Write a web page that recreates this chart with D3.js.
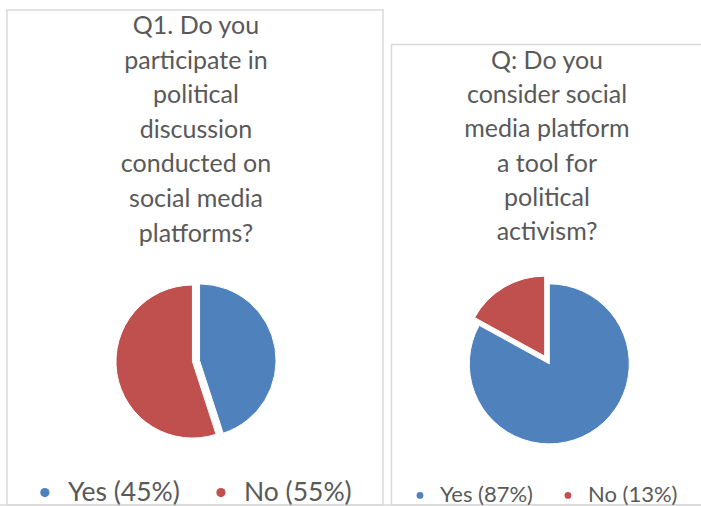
<!DOCTYPE html>
<html>
<head>
<meta charset="utf-8">
<script src="https://cdn.jsdelivr.net/npm/d3@7"></script>
<style>
  body { margin: 0; background: #fff; }
  svg { display: block; font-family: Lato, "Open Sans", sans-serif; }
</style>
</head>
<body>
<svg id="chart" width="701" height="506"></svg>
<script>

// chart data
var categories = ["Yes", "No"];
var colors = ["#4f81bd", "#c0504d"];

var q1Title = ["Q1. Do you", "participate in", "political", "discussion",
               "conducted on", "social media", "platforms?"];
var q1Values = [45, 55];
var q1Labels = ["Yes (45%)", "No (55%)"];

var q2Title = ["Q: Do you", "consider social", "media platform",
               "a tool for", "political", "activism?"];
var q2Values = [83, 17];   // slice sizes as drawn in the picture
var q2Labels = ["Yes (87%)", "No (13%)"];


var svg = d3.select("#chart"),
    width = +svg.attr("width"),
    height = +svg.attr("height");

var textColor = "#595959",
    borderColor = "#d9d9d9";

// panel frames
svg.append("rect")
    .attr("x", 7).attr("y", 10)
    .attr("width", 376).attr("height", 495)
    .attr("fill", "none").attr("stroke", borderColor).attr("stroke-width", 1.5);

svg.append("rect")
    .attr("x", 391.5).attr("y", 44.5)
    .attr("width", 330).attr("height", 460.5)
    .attr("fill", "none").attr("stroke", borderColor).attr("stroke-width", 1.5);

svg.append("line")
    .attr("x1", 0).attr("x2", width)
    .attr("y1", 505).attr("y2", 505)
    .attr("stroke", borderColor).attr("stroke-width", 1.5);


function draw_panel(opts) {
    var g = svg.append("g");

    // title, one line per row
    g.append("text")
        .attr("text-anchor", "middle")
        .attr("fill", textColor)
        .attr("font-size", opts.titleSize)
        .selectAll("tspan")
        .data(opts.title)
        .join("tspan")
        .attr("x", opts.cx)
        .attr("y", function(d, i) { return opts.titleTop + i * opts.lineHeight; })
        .text(function(d) { return d; });

    // pie, both slices pulled out a little
    var pie = d3.pie().sort(null).value(function(d) { return d; });
    var arc = d3.arc().innerRadius(0).outerRadius(opts.r);

    g.append("g")
        .attr("transform", "translate(" + opts.cx + "," + opts.cy + ")")
        .selectAll("path")
        .data(pie(opts.values))
        .join("path")
        .attr("d", arc)
        .attr("fill", function(d, i) { return colors[i]; })
        .attr("stroke", "#fff")
        .attr("stroke-width", 1)
        .attr("transform", function(d, i) {
            var mid = (d.startAngle + d.endAngle) / 2,
                off = opts.explode[i];
            return "translate(" + (Math.sin(mid) * off) + "," + (-Math.cos(mid) * off) + ")";
        });

    // legend, centred under the pie
    var leg = g.append("g");
    var items = leg.selectAll("g")
        .data(opts.labels)
        .join("g");

    items.append("circle")
        .attr("r", opts.dotR)
        .attr("cy", -opts.legendSize * 0.3)
        .attr("fill", function(d, i) { return colors[i]; });

    items.append("text")
        .attr("x", opts.dotGap)
        .attr("fill", textColor)
        .attr("font-size", opts.legendSize)
        .text(function(d) { return d; });

    var x = 0;
    items.each(function(d, i) {
        var w = d3.select(this).select("text").node().getComputedTextLength();
        d3.select(this).attr("transform", "translate(" + x + ",0)");
        x += opts.dotGap + w + opts.itemGap;
    });
    var total = x - opts.itemGap + opts.dotR;
    leg.attr("transform", "translate(" + (opts.cx - total / 2 + opts.dotR) + "," + opts.legendY + ")");
}

draw_panel({
    title: q1Title, values: q1Values, labels: q1Labels,
    cx: 196, cy: 361, r: 76.5, explode: [3.6, 3.6],
    titleTop: 34, lineHeight: 34.6, titleSize: 25,
    legendY: 500.5, legendSize: 26.5, dotR: 4.6, dotGap: 23, itemGap: 41
});

draw_panel({
    title: q2Title, values: q2Values, labels: q2Labels,
    cx: 547, cy: 360, r: 80, explode: [4.5, 4.5],
    titleTop: 69, lineHeight: 34.2, titleSize: 25,
    legendY: 502, legendSize: 22, dotR: 3.4, dotGap: 20, itemGap: 35
});

console.log("drawn");
</script>
</body>
</html>
